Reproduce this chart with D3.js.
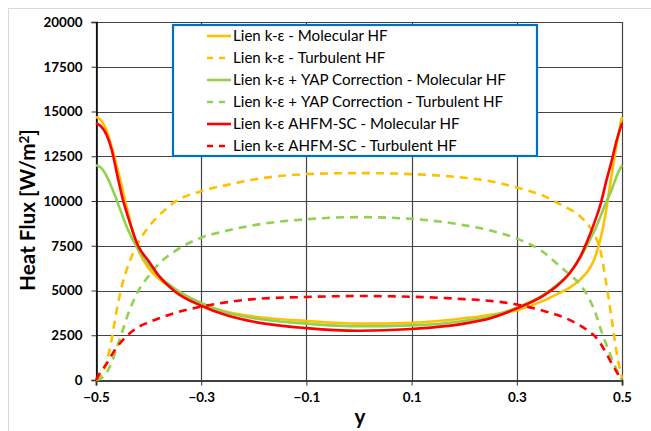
<!DOCTYPE html>
<html><head><meta charset="utf-8">
<script src="https://cdn.jsdelivr.net/npm/d3@7"></script>
<style>body{margin:0;background:#fff}svg{display:block}</style>
</head><body>
<svg id="c" width="651" height="431"></svg>
<script>
// ---- data ----
const yPos = [-0.5,-0.49,-0.48,-0.47,-0.46,-0.45,-0.44,-0.42,-0.40,-0.38,-0.35,-0.3,-0.25,-0.2,-0.1,0,0.1,0.2,0.25,0.3,0.35,0.38,0.40,0.42,0.44,0.45,0.46,0.47,0.48,0.49,0.5];
const lienMol   = [14700,14500,13950,13000,11900,10700,9450,7300,6250,5650,5050,4250,3800,3550,3300,3150,3200,3450,3650,3900,4420,4850,5150,5600,6300,6950,8000,9500,11400,13200,14700];
const lienTurb  = [0,200,1000,2300,4000,5350,6300,7650,8550,9200,9950,10550,10900,11200,11500,11560,11500,11300,11100,10750,10300,9850,9550,9150,8500,8000,7100,5400,3500,1500,100];
const yapMol    = [12000,11850,11400,10750,10000,9200,8450,7300,6450,5800,5100,4300,3750,3450,3150,3000,3050,3300,3550,4050,4750,5400,5950,6800,7900,8500,9200,9950,10600,11400,12000];
const yapTurb   = [0,100,400,1000,1850,2700,3600,4950,5800,6500,7200,7950,8350,8650,8980,9100,9000,8650,8350,7900,7150,6400,5900,5350,4400,3700,2800,2000,1250,550,0];
const ahfmMol   = [14350,14150,13700,12850,11500,10200,9200,7500,6650,5800,4950,4150,3600,3250,2900,2750,2850,3150,3450,4000,4700,5350,5950,6850,8200,9000,9900,11100,12200,13400,14350];
const ahfmTurb  = [0,500,900,1400,1850,2200,2500,2950,3220,3450,3750,4100,4350,4520,4640,4690,4650,4520,4420,4220,3870,3600,3360,3050,2650,2400,2000,1500,950,450,0];
const seriesNames = ["Lien k-\u03b5 - Molecular HF","Lien k-\u03b5 - Turbulent HF","Lien k-\u03b5 + YAP Correction - Molecular HF","Lien k-\u03b5 + YAP Correction - Turbulent HF","Lien k-\u03b5 AHFM-SC - Molecular HF","Lien k-\u03b5 AHFM-SC - Turbulent HF"];
const seriesColors = ["#FFC000","#FFC000","#92D050","#92D050","#FF0000","#FF0000"];
const seriesDashed = [false,true,false,true,false,true];
const xTicks = [-0.5,-0.3,-0.1,0.1,0.3,0.5];
const yTicks = [0,2500,5000,7500,10000,12500,15000,17500,20000];

const seriesData = [lienMol,lienTurb,yapMol,yapTurb,ahfmMol,ahfmTurb];

const svg = d3.select("#c");
const L=96,R=622,T=22,B=380;
const x = d3.scaleLinear().domain([-0.5,0.5]).range([L,R]);
const y = d3.scaleLinear().domain([0,20000]).range([B,T]);
const font = "Lato, 'Open Sans', sans-serif";

// size a font so that a sample string reaches a target width
function fitSize(str, target, weight, base){
  const t = svg.append("text").attr("font-family",font).attr("font-weight",weight)
    .attr("font-size",base+"px").text(str);
  const w = t.node().getComputedTextLength();
  t.remove();
  return base*target/w;
}
const tickSize = fitSize("20000",39,"bold",13);
const legSize = fitSize(seriesNames[2],273,"normal",13);
const titleSize = fitSize("Heat Flux [W/m2]",166,"bold",16);

// outer chart border
svg.append("rect").attr("x",8.5).attr("y",8.5).attr("width",700).attr("height",500)
  .attr("fill","none").attr("stroke","#d9d9d9");

// gridlines
const g = svg.append("g");
g.selectAll(".hg").data(yTicks).join("line")
  .attr("x1",L).attr("x2",R).attr("y1",d=>Math.round(y(d))+0.5).attr("y2",d=>Math.round(y(d))+0.5)
  .attr("stroke","#444").attr("stroke-width",1.2);
g.selectAll(".vg").data(xTicks).join("line")
  .attr("y1",T).attr("y2",B).attr("x1",d=>Math.round(x(d))+0.5).attr("x2",d=>Math.round(x(d))+0.5)
  .attr("stroke","#444").attr("stroke-width",1.2);

// axes
const yAxis = d3.axisLeft(y).tickValues(yTicks).tickSize(5).tickPadding(9).tickFormat(d3.format("d"));
const xAxis = d3.axisBottom(x).tickValues(xTicks).tickSize(5).tickPadding(7).tickFormat(d3.format(".1f"));
const ya = svg.append("g").attr("transform",`translate(${L+0.5},0)`).call(yAxis);
const xa = svg.append("g").attr("transform",`translate(0,${B+0.5})`).call(xAxis);
[ya,xa].forEach(a=>{
  a.select(".domain").attr("stroke","#000").attr("stroke-width",1.5);
  a.selectAll(".tick line").attr("stroke","#333");
  a.selectAll("text").attr("font-family",font).attr("font-weight","bold").attr("font-size",tickSize+"px").attr("fill","#000");
});
xa.select(".domain").attr("stroke","#404040").attr("stroke-width",2);

// lines
const line = d3.line().x((d,i)=>x(yPos[i])).y(d=>y(d)).curve(d3.curveMonotoneX);
seriesData.forEach((s,k)=>{
  svg.append("path").datum(s).attr("d",line)
    .attr("fill","none").attr("stroke",seriesColors[k]).attr("stroke-width",2.6)
    .attr("stroke-dasharray",seriesDashed[k]?"8,6":null)
    .attr("stroke-linejoin","round");
});

// legend
const lg = svg.append("g");
lg.append("rect").attr("x",173).attr("y",25).attr("width",364).attr("height",131)
  .attr("fill","#fff").attr("stroke","#0070C0").attr("stroke-width",2.2);
seriesNames.forEach((n,k)=>{
  const yy = 36 + k*22;
  lg.append("line").attr("x1",207).attr("x2",231).attr("y1",yy).attr("y2",yy)
    .attr("stroke",seriesColors[k]).attr("stroke-width",2.6)
    .attr("stroke-dasharray",seriesDashed[k]?"6,6":null);
  lg.append("text").attr("x",233).attr("y",yy+5).text(n)
    .attr("font-family",font).attr("font-size",legSize+"px").attr("fill","#000");
});

// axis titles
svg.append("text").attr("transform","translate(35,210) rotate(-90)").attr("text-anchor","middle")
  .attr("font-family",font).attr("font-weight","bold").attr("font-size",titleSize+"px")
  .html(`Heat Flux [W/m<tspan dy="-6" font-size="${titleSize*0.65}px">2</tspan><tspan dy="6">]</tspan>`);
svg.append("text").attr("x",360).attr("y",424).attr("text-anchor","middle")
  .attr("font-family",font).attr("font-weight","bold").attr("font-size",titleSize+"px").text("y");
</script>
</body></html>
